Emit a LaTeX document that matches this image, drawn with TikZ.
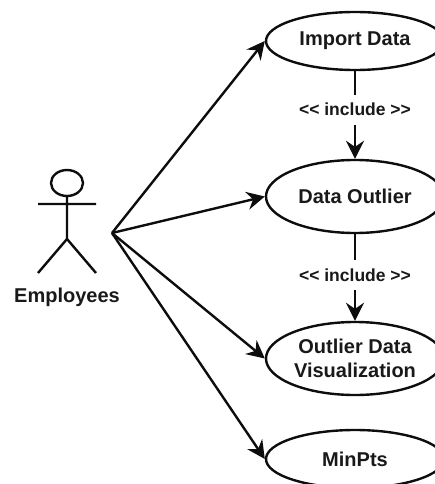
\documentclass[tikz,border=0pt]{standalone}
\usepackage{fontspec}
\setmainfont{Liberation Sans}
\usetikzlibrary{arrows.meta,shapes.geometric}
\tikzset{
  x=1pt,y=-1pt,
  line/.style={line width=2.4pt,black!95},
  usecase/.style={ellipse,draw=black!95,line width=2.4pt,minimum width=178pt,inner sep=0pt,align=center,font=\bfseries\fontsize{20}{24}\selectfont,text=black!90},
  link/.style={line width=2.4pt,draw=black!95,-{Stealth[length=18pt,width=18pt,inset=6pt]}},
  tag/.style={fill=white,inner sep=0pt,minimum height=30pt,font=\bfseries\fontsize{17.5}{20}\selectfont,text=black!90},
}
\begin{document}
\begin{tikzpicture}
\useasboundingbox (0,0) rectangle (435,484);
\clip (0,0) rectangle (435,484);
\node[usecase,minimum height=58pt] (imp) at (355,41) {Import Data};
\node[usecase,minimum height=73pt] (out) at (355,196.5) {Data Outlier};
\node[usecase,minimum height=73pt] (vis) at (355,358.5) {Outlier Data\\Visualization};
\node[usecase,minimum height=58pt] (min) at (355,459) {MinPts};
\coordinate (hub) at (112,233);
\draw[line] (67,183) ellipse [x radius=16,y radius=13];
\draw[line] (67,196) -- (67,239) (38,204) -- (96,204) (38,273) -- (67,239) -- (96,273);
\node[font=\bfseries\fontsize{20}{24}\selectfont,text=black!90] (emp) at (67,297) {Employees};
\draw[link] (hub) -- (imp.west);
\draw[link] (hub) -- (out.west);
\draw[link] (hub) -- (vis.west);
\draw[link] (hub) -- (min.west);
\draw[link] (imp) -- node[tag,pos=0.44] (t1) {<{}< include >{}>} (out);
\draw[link] (out) -- node[tag,pos=0.47] (t2) {<{}< include >{}>} (vis);
\end{tikzpicture}
\end{document}
